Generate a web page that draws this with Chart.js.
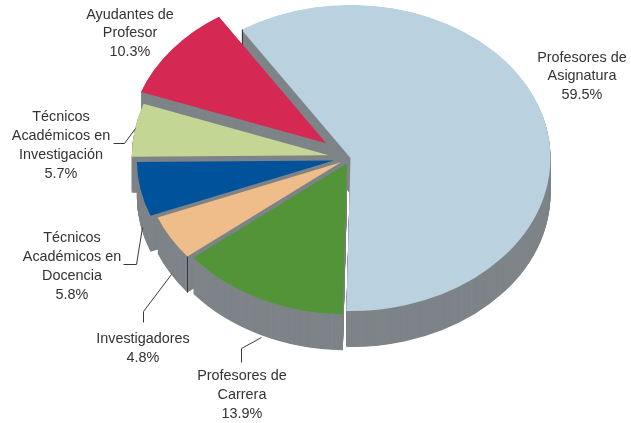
<!DOCTYPE html>
<html><head><meta charset="utf-8">
<style>html,body{margin:0;padding:0;background:#fff}canvas{display:block}</style>
<script src="https://cdn.jsdelivr.net/npm/chart.js@4"></script>
</head><body><canvas id="c" width="631" height="423"></canvas>
<script>
const categories = ["Profesores de Asignatura","Profesores de Carrera","Investigadores","Técnicos Académicos en Docencia","Técnicos Académicos en Investigación","Ayudantes de Profesor"];
const shares = [59.5,13.9,4.8,5.8,5.7,10.3];
const colors = ["#BAD1E0","#539438","#EFBD8A","#00529B","#C3D694","#D52852"];
const explode = [0,8,11,17,22,31];
const radiusScale = [1,0.985,0.985,0.985,0.985,0.985];
const drawOrder = [0,5,4,3,2,1];
const WALL="#7E8488", EDGE="#33383b", TILT=0.765, DEPTH=36;
const labels = [
 {x:582,y:[58,76,95],t:["Profesores de","Asignatura","59.5%"]},
 {x:242,y:[376,395,414],t:["Profesores de","Carrera","13.9%"]},
 {x:143,y:[339,358],t:["Investigadores","4.8%"]},
 {x:72,y:[238,257,276,295],t:["Técnicos","Académicos en","Docencia","5.8%"]},
 {x:61,y:[117,136,155,174],t:["Técnicos","Académicos en","Investigación","5.7%"]},
 {x:130,y:[15,33,52],t:["Ayudantes de","Profesor","10.3%"]}
];
const leaders = [
 [[113,143],[124,143],[135,128]],
 [[123,264],[136,264],[142,227]],
 [[143,322],[143,311],[171,274]],
 [[241,362],[241,348],[261,337]]
];
const rimEdges = [{slice:0,len:15},{slice:2,len:36}];
const pie3d = {
 id:"pie3d",
 beforeDatasetsDraw(chart){
  const ctx=chart.ctx, arcs=chart.getDatasetMeta(0).data;
  const paint=(i,dy)=>{
   const a=arcs[i], mid=(a.startAngle+a.endAngle)/2, s=radiusScale[i];
   ctx.save();
   ctx.translate(a.x,a.y+dy);
   ctx.scale(s,TILT*s);
   ctx.translate(explode[i]*Math.cos(mid)/s,explode[i]*Math.sin(mid)/s);
   ctx.translate(-a.x,-a.y);
   a.draw(ctx);
   ctx.restore();
  };
  drawOrder.forEach(i=>{
   const a=arcs[i], base=a.options;
   a.options=Object.create(base,{backgroundColor:{value:WALL}});
   for(let d=DEPTH;d>0;d-=0.5) paint(i,d);
   a.options=base;
   paint(i,0);
  });
  ctx.save();
  ctx.strokeStyle=EDGE; ctx.lineWidth=1;
  rimEdges.forEach(e=>{
   const a=arcs[e.slice], mid=(a.startAngle+a.endAngle)/2, s=radiusScale[e.slice], ex=explode[e.slice];
   const r=a.outerRadius*s;
   const px=a.x+ex*Math.cos(mid)+r*Math.cos(a.startAngle);
   const py=a.y+TILT*(ex*Math.sin(mid)+r*Math.sin(a.startAngle));
   ctx.beginPath();ctx.moveTo(Math.round(px)+.5,py);ctx.lineTo(Math.round(px)+.5,py+e.len);ctx.stroke();
  });
  ctx.strokeStyle="#3a3a3a";
  leaders.forEach(l=>{ctx.beginPath();l.forEach((p,k)=>k?ctx.lineTo(p[0]+.5,p[1]+.5):ctx.moveTo(p[0]+.5,p[1]+.5));ctx.stroke();});
  ctx.fillStyle="#333"; ctx.font="14.4px 'Liberation Sans'"; ctx.textAlign="center"; ctx.textBaseline="middle";
  labels.forEach(l=>l.t.forEach((t,k)=>ctx.fillText(t,l.x,l.y[k])));
  ctx.restore();
  return false;
 }
};
new Chart(document.getElementById("c"),{
 type:"pie",
 data:{labels:categories,datasets:[{data:shares,backgroundColor:colors,borderWidth:0}]},
 options:{responsive:false,animation:false,rotation:-33,radius:200,
  layout:{padding:{left:70,top:0,right:0,bottom:107}},
  plugins:{legend:{display:false},tooltip:{enabled:false}}},
 plugins:[pie3d]
});
</script></body></html>
